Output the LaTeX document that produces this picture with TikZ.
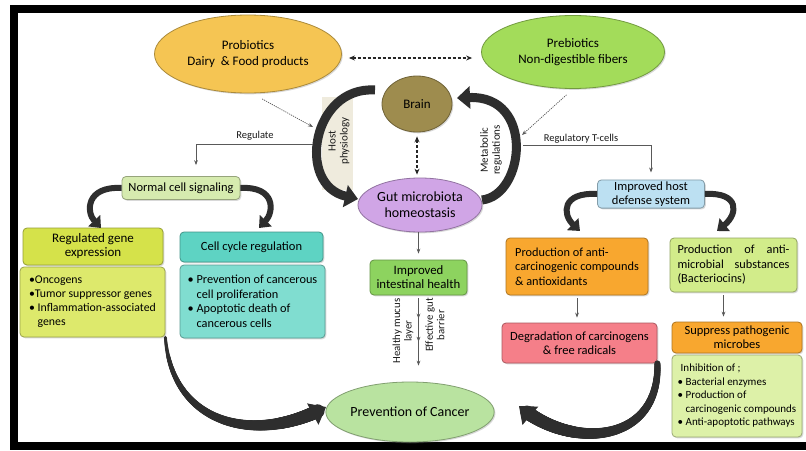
\documentclass[tikz,border=0pt]{standalone}
\usepackage{fontspec}
\setmainfont{Carlito}
\usetikzlibrary{shapes.geometric,arrows.meta,shadows,decorations.markings,calc}
\definecolor{cProbio}{HTML}{F5C553}
\definecolor{cPrebio}{HTML}{A3DC5A}
\definecolor{cBrain}{HTML}{9E8C4E}
\definecolor{cGut}{HTML}{D0A5E6}
\definecolor{cNcs}{HTML}{D6EBAF}
\definecolor{cHost}{HTML}{BCE0F2}
\definecolor{cGeneH}{HTML}{D5E24A}
\definecolor{cGeneB}{HTML}{DDE96C}
\definecolor{cCellH}{HTML}{5ED3C3}
\definecolor{cCellB}{HTML}{80DDD0}
\definecolor{cIntest}{HTML}{8DD35F}
\definecolor{cPrev}{HTML}{B9E3A0}
\definecolor{cOrange}{HTML}{F8A72F}
\definecolor{cPink}{HTML}{F57F89}
\definecolor{cMicro}{HTML}{D2EC8A}
\definecolor{cInhib}{HTML}{DDF1A8}
\definecolor{cBeige}{HTML}{EFEBDD}
\definecolor{cArc}{HTML}{2E2E2E}
\begin{document}
\begin{tikzpicture}[x=1pt,y=-1pt,
  basebox/.style={rounded corners=4pt, line width=0.8pt, inner sep=2pt, align=center,
    text=black, font=\fontsize{12.5}{14}\selectfont,
    drop shadow={shadow xshift=1.3pt,shadow yshift=-1.3pt,opacity=0.3}},
  colbox/.style={basebox, fill=#1, draw=#1!70!black},
  colell/.style={ellipse, inner sep=0pt, line width=0.8pt, align=center,
    text=black, font=\fontsize{13}{15.5}\selectfont, fill=#1, draw=#1!70!black,
    drop shadow={shadow xshift=1.3pt,shadow yshift=-1.3pt,opacity=0.3}},
  lbl/.style={font=\fontsize{10.5}{12}\selectfont, text=black!90, inner sep=1pt},
  rotlbl/.style={font=\fontsize{11}{12}\selectfont, text=black!90, inner sep=1pt, rotate=90, align=center},
  bigarrow/.style={line width=9pt, draw=cArc, -{Triangle[width=22pt,length=13pt]}},
  medarrow/.style={line width=6pt, draw=cArc, -{Triangle[width=16pt,length=10pt]}},
  headonly/.style={draw=cArc, fill=cArc, line width=1pt, -{Triangle[width=24pt,length=15pt]}},
  taper/.style n args={3}{postaction={decorate, decoration={markings,
    mark=between positions 0 and #3 step 0.6pt with {%
      \pgfmathsetmacro{\taperr}{#1+(#2-#1)*(\pgfkeysvalueof{/pgf/decoration/mark info/distance from start})/(\pgfdecoratedpathlength)}%
      \fill[cArc] (0,0) circle (\taperr pt);}}}},
  dasharrow/.style={dash pattern=on 3pt off 2pt, line width=1.1pt, draw=black!85,
    {Stealth[length=6pt,width=5pt]}-{Stealth[length=6pt,width=5pt]}},
  dotarrow/.style={dash pattern=on 1.2pt off 1pt, line width=0.7pt, draw=black!65, -{Stealth[length=5pt]}},
  thinarrow/.style={line width=0.8pt, draw=black!65, -{Stealth[length=5pt]}}
]
\useasboundingbox (0,0) rectangle (806,450);
% frame
\fill[black] (10,5) rectangle (806,450);
\fill[white] (18,13) rectangle (806,442);

% beige band behind host physiology arc
\fill[cBeige] (322,97) rectangle (353,190);

% ellipses
\node[colell=cProbio, minimum width=187, minimum height=78] (probio) at (248,54) {Probiotics\\Dairy\ \ \& Food products};
\node[colell=cPrebio, minimum width=183, minimum height=73] (prebio) at (573,52) {Prebiotics\\Non-digestible fibers};
\node[colell=cBrain, minimum width=70, minimum height=56] (brain) at (417,104) {Brain};
\node[colell=cGut, minimum width=124, minimum height=54, font=\fontsize{14}{16}\selectfont] (gut) at (420,205) {Gut microbiota\\homeostasis};
\node[colell=cPrev, minimum width=157, minimum height=60, font=\fontsize{14}{16}\selectfont] (prev) at (410,412) {Prevention of Cancer};

% boxes
\node[colbox=cNcs, minimum width=118, minimum height=23] (ncs) at (181,188) {Normal cell signaling};
\node[colbox=cHost, minimum width=107, minimum height=28, font=\fontsize{12.5}{13.5}\selectfont] (host) at (651,194) {Improved host\\defense system};
\node[colbox=cGeneH, minimum width=140, minimum height=37, font=\fontsize{13}{14}\selectfont] (geneh) at (93,246.5) {Regulated gene\\expression};
\node[colbox=cGeneB, minimum width=145, minimum height=70, align=left, font=\fontsize{11.8}{14}\selectfont] (geneb) at (92.5,302)
  {•Oncogens\\•Tumor suppressor genes\\• Inflammation-associated\\\phantom{• }genes};
\node[colbox=cCellH, minimum width=143, minimum height=30] (cellh) at (251.5,247) {Cell cycle regulation};
\node[colbox=cCellB, minimum width=145, minimum height=73, align=left, font=\fontsize{12.3}{14.5}\selectfont] (cellb) at (252.5,301.5)
  {• Prevention of cancerous\\\phantom{• }cell proliferation\\• Apoptotic death of\\\phantom{• }cancerous cells};
\node[colbox=cIntest, minimum width=97, minimum height=35, font=\fontsize{12.8}{14}\selectfont] (intest) at (418.5,277.5) {Improved\\intestinal health};
\node[colbox=cOrange, minimum width=142, minimum height=57, align=left, font=\fontsize{12.3}{14.5}\selectfont] (anti) at (577,266.5)
  {Production of anti-\\carcinogenic compounds\\\& antioxidants};
\node[colbox=cPink, minimum width=155, minimum height=40, font=\fontsize{12.5}{14.5}\selectfont] (degr) at (579.5,343) {Degradation of carcinogens\\\& free radicals};
\node[colbox=cMicro, minimum width=127, minimum height=54, align=left, font=\fontsize{12.3}{14.5}\selectfont] (micro) at (733.5,265)
  {\makebox[112pt][s]{Production of anti-}\\\makebox[112pt][s]{microbial substances}\\(Bacteriocins)};
\node[colbox=cOrange, minimum width=130, minimum height=31, font=\fontsize{12.5}{14}\selectfont] (supp) at (737,337.5) {Suppress pathogenic\\microbes};
\node[colbox=cInhib, minimum width=130, minimum height=82, align=left, font=\fontsize{11}{13.5}\selectfont] (inhib) at (737,396)
  {\hspace*{3pt}Inhibition of ;\\• Bacterial enzymes\\• Production of\\\phantom{• }carcinogenic compounds\\• Anti-apoptotic pathways};

% labels
\node[rotlbl] (hostlbl) at (339,141) {Host\\physiology};
\node[rotlbl] (metlbl) at (491,150) {Metabolic\\regulations};
\node[lbl] (reglbl) at (255,136) {Regulate};
\node[lbl] (rtlbl) at (581,139) {Regulatory T-cells};
\node[rotlbl, font=\fontsize{10.8}{11.5}\selectfont] (mucus) at (403,331) {Healthy mucus\\layer};
\node[rotlbl, font=\fontsize{10.8}{11.5}\selectfont] (barrier) at (435,325) {Effective gut\\barrier};

% helper coordinates
\coordinate (hpin) at (313,127);
\coordinate (mrin) at (522,135);
\coordinate (regA) at (313,144);
\coordinate (rtA) at (523,145);
\coordinate (hpStart) at (375,90);
\coordinate (hpEnd) at (358,199);
\coordinate (mrStart) at (482,200);
\coordinate (mrEnd) at (457,98);
\coordinate (leftEnd) at (326,407);
\coordinate (rightEnd) at (519,406);
\coordinate (leftC2) at (255,445);
\coordinate (rightC2) at (570,450);

% dashed double arrows
\draw[dasharrow] ([xshift=7pt,yshift=-4pt]probio.east) -- ([xshift=-9pt,yshift=-6pt]prebio.west);
\draw[dasharrow, shorten <=4pt, shorten >=3pt] (brain.south) -- (brain.south |- gut.north);

% dotted arrows
\draw[dotarrow] ([yshift=-6pt]probio.-70) -- (hpin);
\draw[dotarrow] ([yshift=-6pt]prebio.-100) -- (mrin);

% big arcs round brain and gut
\draw[bigarrow] (hpStart) .. controls (312,86) and (296,185) .. (hpEnd);
\draw[bigarrow] (mrStart) .. controls (525,195) and (535,95) .. (mrEnd);

% regulate lines
\draw[thinarrow, shorten >=11pt] (regA) -| ([xshift=15pt]ncs.north);
\draw[thinarrow, shorten >=7pt] (rtA) -| (host.north);

% small curved arrows
\draw[medarrow] (ncs.west) .. controls (86,186) and (86,212) .. (101,228);
\draw[medarrow] (ncs.east) .. controls (276,186) and (274,212) .. (259,228);
\draw[medarrow] (host.west) .. controls (562,192) and (562,214) .. (580,231);
\draw[medarrow] (host.east) .. controls (740,192) and (738,214) .. (717,231);

% straight connectors
\draw[thinarrow, shorten >=6pt] (gut.south -| intest.north) -- (intest.north);
\coordinate (ie) at (intest.south |- prev.north);
\draw[thinarrow, shorten <=3pt, postaction={decorate},
  decoration={markings, mark=at position 0.33 with {\arrow{Stealth[length=5pt]}}, mark=at position 0.66 with {\arrow{Stealth[length=5pt]}}}]
  (intest.south) -- ([yshift=16pt]ie);
\draw[thinarrow, shorten <=3pt, shorten >=5pt] (anti.south) -- (anti.south |- degr.north);
\draw[thinarrow, shorten <=3pt, shorten >=5pt] ([xshift=-10pt]micro.south) -- ([xshift=-10pt]micro.south |- supp.north);

% big tapered arcs to prevention
\path[taper={1.5}{7}{0.95}] (geneb.south east) .. controls (172,425) and (leftC2) .. (leftEnd);
\draw[headonly] ($(leftEnd)!16pt!(leftC2)$) -- (leftEnd);
\path[taper={3}{7}{0.94}] (degr.south east) .. controls (660,445) and (rightC2) .. (rightEnd);
\draw[headonly] ($(rightEnd)!16pt!(rightC2)$) -- (rightEnd);
\end{tikzpicture}
\end{document}
